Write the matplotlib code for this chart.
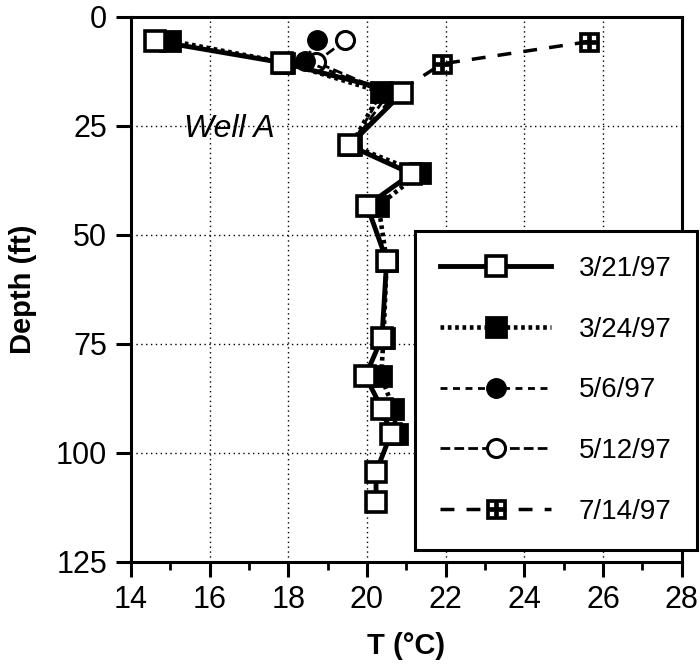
import matplotlib
matplotlib.use("Agg")
import matplotlib.pyplot as plt
from matplotlib.path import Path

plt.rcParams["font.family"] = ["Liberation Sans", "DejaVu Sans"]

# 3/21/97 - open squares, solid
depth_0321 = [5.5, 10.5, 17.5, 29.5, 36, 43.3, 55.9, 73.6, 82.4, 89.9, 95.6, 104.4, 111.2]
temp_0321 = [14.6, 17.83, 20.89, 19.55, 21.13, 20.0, 20.5, 20.38, 19.96, 20.38, 20.61, 20.23, 20.23]

# 3/24/97 - filled squares, dotted
depth_0324 = [5.5, 10.5, 17.2, 29.5, 35.8, 43.3, 55.9, 73.6, 82.4, 89.9, 95.6]
temp_0324 = [15.0, 17.9, 20.35, 19.6, 21.35, 20.29, 20.5, 20.42, 20.36, 20.67, 20.75]

# 5/6/97 - filled circles, short dash
depth_0506 = [5.4, 10.1, 17.3, 29.5]
temp_0506 = [18.73, 18.42, 20.4, 19.6]

# 5/12/97 - open circles, dash
depth_0512 = [5.4, 10.4, 17.5, 29.5]
temp_0512 = [19.45, 18.7, 20.55, 19.6]

# 7/14/97 - crossed squares, long dash
depth_0714 = [5.7, 10.8, 17.5, 29.5]
temp_0714 = [25.63, 21.9, 20.75, 19.6]

x_ticks = [14, 16, 18, 20, 22, 24, 26, 28]
y_ticks = [0, 25, 50, 75, 100, 125]


def crossed_square():
    # black square with a thick cross, leaving four white windows
    verts = [(-1, -1), (1, -1), (1, 1), (-1, 1), (-1, -1)]
    codes = [Path.MOVETO, Path.LINETO, Path.LINETO, Path.LINETO, Path.CLOSEPOLY]
    for a, c in [(-0.68, -0.17), (0.17, 0.68)]:
        for b, d in [(-0.68, -0.17), (0.17, 0.68)]:
            verts += [(a, b), (a, d), (c, d), (c, b), (a, b)]
            codes += [Path.MOVETO, Path.LINETO, Path.LINETO, Path.LINETO, Path.CLOSEPOLY]
    return Path(verts, codes)


fig = plt.figure(figsize=(7, 6.72), dpi=100)
ax = fig.add_axes([0.187, 0.164, 0.787, 0.811])

ax.plot(temp_0714, depth_0714, color="black", lw=2.5, ls=(0, (4, 3.5)),
        marker=crossed_square(), ms=15, mfc="black", mec="black", mew=0.5,
        label="7/14/97", zorder=3)
ax.plot(temp_0512, depth_0512, color="black", lw=2, ls=(0, (3.5, 1.5)),
        marker="o", ms=13, mfc="white", mec="black", mew=2.2,
        label="5/12/97", zorder=4)
ax.plot(temp_0506, depth_0506, color="black", lw=2, ls=(0, (2.5, 2)),
        marker="o", ms=14, mfc="black", mec="black",
        label="5/6/97", zorder=5)
ax.plot(temp_0324, depth_0324, color="black", lw=3.3, ls=(0, (0.8, 0.8)),
        marker="s", ms=14.5, mfc="black", mec="black", mew=2,
        label="3/24/97", zorder=6)
ax.plot(temp_0321, depth_0321, color="black", lw=3.5, ls="-",
        marker="s", ms=14.5, mfc="white", mec="black", mew=2.6,
        label="3/21/97", zorder=7)

ax.set_xlim(14, 28)
ax.set_ylim(125, 0)
ax.set_xticks(x_ticks)
ax.set_yticks(y_ticks)
ax.set_xticks([15, 17, 19, 21, 23, 25, 27], minor=True)
ax.tick_params(axis="both", which="major", direction="out", length=11, width=2.2,
               labelsize=22, pad=6, top=False, right=False)
ax.tick_params(axis="x", which="minor", direction="out", length=5.5, width=2)
ax.grid(True, which="major", ls=(0, (1, 2.5)), lw=1, color="black")
for s in ax.spines.values():
    s.set_linewidth(2.2)

ax.set_xlabel("T (°C)", fontsize=21, fontweight="bold", labelpad=12)
ax.set_ylabel("Depth (ft)", fontsize=21, fontweight="bold", labelpad=14)
ax.text(15.35, 25.7, "Well A", fontsize=23, style="italic", va="center", ha="left")

handles, labels = ax.get_legend_handles_labels()
order = [4, 3, 2, 1, 0]
leg = ax.legend([handles[i] for i in order], [labels[i] for i in order],
                loc="upper left", bbox_to_anchor=(415 / 700, 1 - 231 / 672),
                bbox_transform=fig.transFigure, borderaxespad=0,
                fontsize=20, numpoints=1, handlelength=4.0, handletextpad=1.0,
                labelspacing=1.25, borderpad=0.9, fancybox=False, framealpha=1,
                edgecolor="black")
leg.get_frame().set_linewidth(2.2)
leg.set_zorder(10)

fig.savefig("out.png", dpi=100)
